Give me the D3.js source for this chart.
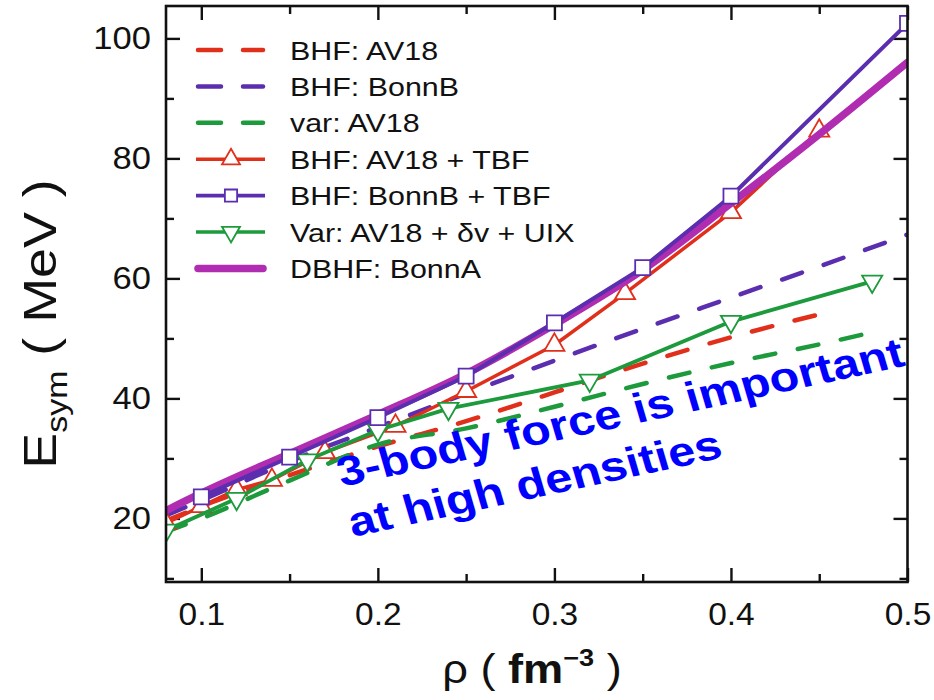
<!DOCTYPE html>
<html>
<head>
<meta charset="utf-8">
<script src="https://cdn.jsdelivr.net/npm/d3@7"></script>
<style>
  html, body { margin: 0; padding: 0; background: #fff; }
  svg { display: block; font-family: "Liberation Sans", Arial, Helvetica, sans-serif; }
</style>
</head>
<body>
<svg id="chart" width="934" height="700"></svg>
<script>
// Symmetry energy vs. density for several many-body calculations
const bhfAv18X = [0.08, 0.1, 0.15, 0.2, 0.25, 0.3, 0.35, 0.4, 0.45];
const bhfAv18Y = [19.6, 22.0, 27.2, 32.0, 36.2, 41.0, 45.8, 50.2, 54.0];

const bhfBonnBX = [0.08, 0.1, 0.15, 0.2, 0.25, 0.3, 0.35, 0.4, 0.45, 0.5];
const bhfBonnBY = [20.5, 23.0, 29.5, 35.2, 40.8, 46.3, 51.6, 56.8, 62.0, 67.3];

const varAv18X = [0.08, 0.1, 0.15, 0.2, 0.25, 0.3, 0.35, 0.4, 0.45, 0.48];
const varAv18Y = [17.8, 20.0, 26.3, 32.3, 35.0, 38.6, 42.4, 45.9, 49.0, 51.0];

const bhfAv18TbfX = [0.08, 0.1, 0.12, 0.14, 0.17, 0.21, 0.25, 0.3, 0.34, 0.4, 0.45];
const bhfAv18TbfY = [19.2, 22.0, 24.8, 26.4, 31.0, 35.4, 41.2, 48.9, 57.5, 71.0, 84.6];

const bhfBonnBTbfX = [0.1, 0.15, 0.2, 0.25, 0.3, 0.35, 0.4, 0.5];
const bhfBonnBTbfY = [23.6, 30.2, 36.8, 43.7, 52.6, 61.8, 73.7, 102.5];

const varUixX = [0.08, 0.12, 0.16, 0.2, 0.24, 0.32, 0.4, 0.48];
const varUixY = [18.0, 23.3, 29.7, 34.7, 38.3, 43.0, 52.8, 59.5];

const dbhfBonnAX = [0.08, 0.1, 0.15, 0.2, 0.25, 0.3, 0.35, 0.4, 0.45, 0.5];
const dbhfBonnAY = [21.3, 24.2, 30.8, 37.3, 44.1, 52.3, 61.4, 72.5, 84.0, 96.0];

const xMajorTicks = [0.1, 0.2, 0.3, 0.4, 0.5];
const xMinorTicks = [0.15, 0.25, 0.35, 0.45];
const yMajorTicks = [20, 40, 60, 80, 100];
const yMinorTicks = [10, 30, 50, 70, 90];

const legendLabels = [
  "BHF: AV18", "BHF: BonnB", "var: AV18",
  "BHF: AV18 + TBF", "BHF: BonnB + TBF", "Var: AV18 + \u03B4v + UIX", "DBHF: BonnA"
];

const RED = "#e0301c", PURPLE = "#5a2eaf", GREEN = "#1c9a3c", MAGENTA = "#b02cb0";

const svg = d3.select("#chart");
const L = 166, R = 907.5, T = 6, B = 582;

const x = d3.scaleLinear().domain([0.08, 0.5]).range([L, R]);
const y = d3.scaleLinear().domain([9.4, 105.4]).range([B, T]);

svg.append("defs").append("clipPath").attr("id", "plotClip")
  .append("rect").attr("x", L).attr("y", T).attr("width", R - L).attr("height", B - T);

// axes: inward ticks on all four sides
function styleAxis(g) {
  g.select(".domain").remove();
  g.selectAll(".tick line").attr("stroke", "#111").attr("stroke-width", 2.4);
  g.selectAll(".tick text").attr("fill", "#111").attr("transform", "scale(1.08,1)");
}
const fmtX = d3.format(".1f");
svg.append("g").attr("transform", `translate(0,${B})`)
  .call(d3.axisBottom(x).tickValues(xMajorTicks).tickSize(-14).tickPadding(21).tickFormat(fmtX))
  .call(styleAxis).attr("font-size", 31).attr("font-family", null);
svg.append("g").attr("transform", `translate(0,${B})`)
  .call(d3.axisBottom(x).tickValues(xMinorTicks).tickSize(-8).tickFormat(""))
  .call(styleAxis);
svg.append("g").attr("transform", `translate(0,${T})`)
  .call(d3.axisTop(x).tickValues(xMajorTicks).tickSize(-14).tickFormat(""))
  .call(styleAxis);
svg.append("g").attr("transform", `translate(0,${T})`)
  .call(d3.axisTop(x).tickValues(xMinorTicks).tickSize(-8).tickFormat(""))
  .call(styleAxis);
svg.append("g").attr("transform", `translate(${L},0)`)
  .call(d3.axisLeft(y).tickValues(yMajorTicks).tickSize(-14).tickPadding(14))
  .call(styleAxis).attr("font-size", 32).attr("font-family", null);
svg.append("g").attr("transform", `translate(${L},0)`)
  .call(d3.axisLeft(y).tickValues(yMinorTicks).tickSize(-8).tickFormat(""))
  .call(styleAxis);
svg.append("g").attr("transform", `translate(${R},0)`)
  .call(d3.axisRight(y).tickValues(yMajorTicks).tickSize(-14).tickFormat(""))
  .call(styleAxis);
svg.append("g").attr("transform", `translate(${R},0)`)
  .call(d3.axisRight(y).tickValues(yMinorTicks).tickSize(-8).tickFormat(""))
  .call(styleAxis);

// data layer
const plot = svg.append("g").attr("clip-path", "url(#plotClip)");
const zip = (xs, ys) => xs.map((d, i) => [d, ys[i]]);
const smooth = d3.line().x(d => x(d[0])).y(d => y(d[1])).curve(d3.curveMonotoneX);
const straight = d3.line().x(d => x(d[0])).y(d => y(d[1]));

function dashed(xs, ys, color) {
  plot.append("path").datum(zip(xs, ys)).attr("d", smooth)
    .attr("fill", "none").attr("stroke", color).attr("stroke-width", 4.5)
    .attr("stroke-dasharray", "21 23").attr("stroke-linecap", "round");
}
dashed(bhfAv18X, bhfAv18Y, RED);
dashed(bhfBonnBX, bhfBonnBY, PURPLE);
dashed(varAv18X, varAv18Y, GREEN);

const triUp = d3.symbol().type(d3.symbolTriangle).size(175);
const square = d3.symbol().type(d3.symbolSquare).size(225);

function solid(xs, ys, color, width) {
  plot.append("path").datum(zip(xs, ys)).attr("d", straight)
    .attr("fill", "none").attr("stroke", color).attr("stroke-width", width)
    .attr("stroke-linejoin", "round");
}
function markers(xs, ys, color, sym, rot) {
  plot.append("g").selectAll("path").data(zip(xs, ys)).join("path")
    .attr("d", sym)
    .attr("transform", d => `translate(${x(d[0])},${y(d[1])}) rotate(${rot})`)
    .attr("fill", "#fff").attr("stroke", color).attr("stroke-width", 1.8);
}

solid(bhfAv18TbfX, bhfAv18TbfY, RED, 3.5);
markers(bhfAv18TbfX, bhfAv18TbfY, RED, triUp, 0);
solid(varUixX, varUixY, GREEN, 3.8);
markers(varUixX, varUixY, GREEN, triUp, 180);

plot.append("path").datum(zip(dbhfBonnAX, dbhfBonnAY)).attr("d", smooth)
  .attr("fill", "none").attr("stroke", MAGENTA).attr("stroke-width", 7.5)
  .attr("stroke-linecap", "round");

solid(bhfBonnBTbfX, bhfBonnBTbfY, PURPLE, 4);
markers(bhfBonnBTbfX, bhfBonnBTbfY, PURPLE, square, 0);

// frame
svg.append("rect").attr("x", L).attr("y", T).attr("width", R - L).attr("height", B - T)
  .attr("fill", "none").attr("stroke", "#111").attr("stroke-width", 2.6);

// legend
const legendRows = [
  { color: RED, dash: true }, { color: PURPLE, dash: true }, { color: GREEN, dash: true },
  { color: RED, tri: true, rot: 0 }, { color: PURPLE, sq: true },
  { color: GREEN, tri: true, rot: 180 }, { color: MAGENTA, thick: true }
];
const lg = svg.append("g");
legendRows.forEach((r, i) => {
  const cy = 50 + i * 36.4;
  const row = lg.append("g");
  if (r.dash) {
    row.append("line").attr("x1", 198).attr("x2", 263).attr("y1", cy).attr("y2", cy)
      .attr("stroke", r.color).attr("stroke-width", 4.5).attr("stroke-linecap", "round")
      .attr("stroke-dasharray", "23 22");
  } else if (r.thick) {
    row.append("line").attr("x1", 198).attr("x2", 263).attr("y1", cy).attr("y2", cy)
      .attr("stroke", r.color).attr("stroke-width", 7.5).attr("stroke-linecap", "round");
  } else {
    row.append("line").attr("x1", 196).attr("x2", 265).attr("y1", cy).attr("y2", cy)
      .attr("stroke", r.color).attr("stroke-width", 3.6);
    row.append("path")
      .attr("d", d3.symbol().type(r.sq ? d3.symbolSquare : d3.symbolTriangle).size(r.sq ? 150 : 140))
      .attr("transform", `translate(231,${cy}) rotate(${r.rot || 0})`)
      .attr("fill", "#fff").attr("stroke", r.color).attr("stroke-width", 1.8);
  }
  row.append("text").attr("transform", `translate(290,${cy + 9.5}) scale(1.17,1)`)
    .attr("font-size", 26).attr("fill", "#111").text(legendLabels[i]);
});

// axis titles
const yTitle = svg.append("text")
  .attr("transform", "translate(56,324) rotate(-90) scale(1.17,1)")
  .attr("text-anchor", "middle").attr("font-size", 46).attr("fill", "#111");
yTitle.append("tspan").text("E");
yTitle.append("tspan").attr("font-size", 29).attr("dy", 11).text("sym");
yTitle.append("tspan").attr("dy", -11).text(" ( MeV )");

const xTitle = svg.append("text")
  .attr("transform", "translate(532,683) scale(1.13,1)")
  .attr("text-anchor", "middle").attr("font-size", 40).attr("fill", "#111");
xTitle.append("tspan").text("\u03C1  ( ");
xTitle.append("tspan").attr("font-weight", "bold").text("fm");
xTitle.append("tspan").attr("font-size", 24).attr("font-weight", "bold").attr("dy", -17).text("\u22123");
xTitle.append("tspan").attr("dy", 17).text(" )");

// annotation
const note = svg.append("g")
  .attr("transform", "translate(341.7,486.7) scale(1.17,1) rotate(-14.1)")
  .attr("font-weight", "bold").attr("font-size", 41.5).attr("fill", "#0000ff");
note.append("text").attr("x", 0).attr("y", 0).text("3-body force is important");
note.append("text").attr("x", -3).attr("y", 51).text("at high densities");
</script>
</body>
</html>
